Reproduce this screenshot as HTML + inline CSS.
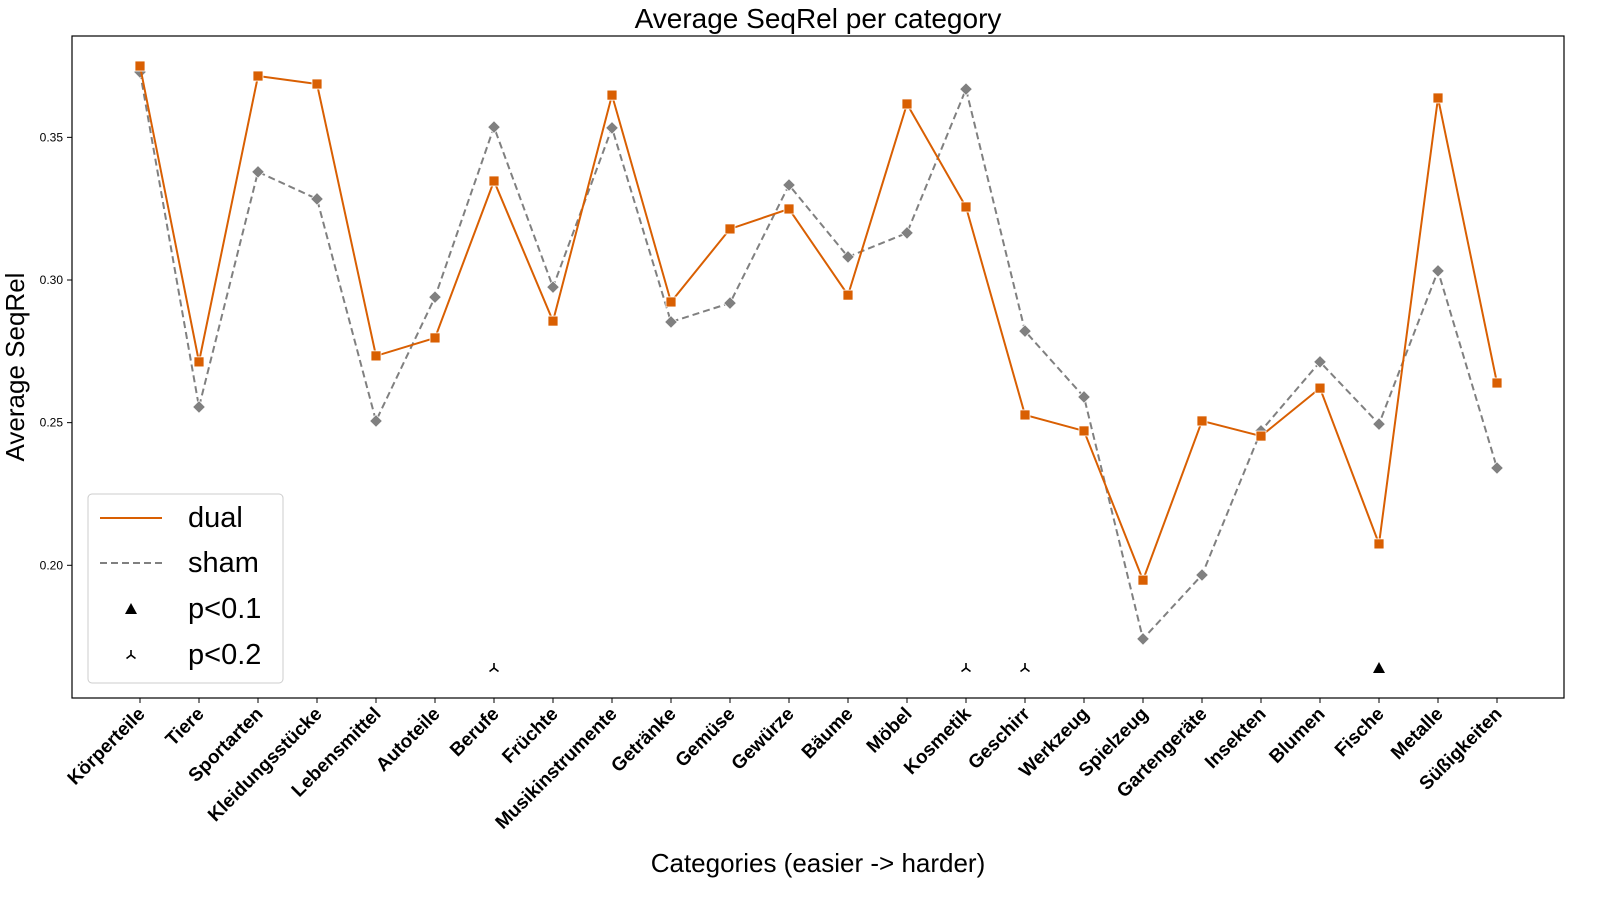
<!DOCTYPE html>
<html><head><meta charset="utf-8"><style>
html,body{margin:0;padding:0;background:#fff;}
svg{display:block;font-family:"Liberation Sans",Arial,sans-serif;}
</style></head><body>
<svg id="chart" width="1600" height="900"></svg>
<script>
const categories=["Körperteile","Tiere","Sportarten","Kleidungsstücke","Lebensmittel","Autoteile","Berufe","Früchte","Musikinstrumente","Getränke","Gemüse","Gewürze","Bäume","Möbel","Kosmetik","Geschirr","Werkzeug","Spielzeug","Gartengeräte","Insekten","Blumen","Fische","Metalle","Süßigkeiten"];
const dualValues=[0.375,0.2713,0.3715,0.3687,0.2734,0.2797,0.3347,0.2856,0.3648,0.2923,0.3179,0.3249,0.2947,0.3617,0.3256,0.2527,0.2471,0.1948,0.2506,0.2453,0.2621,0.2075,0.3638,0.2639];
const shamValues=[0.3729,0.2555,0.3379,0.3284,0.2506,0.2940,0.3536,0.2975,0.3533,0.2853,0.2919,0.3333,0.3081,0.3165,0.3669,0.2821,0.2590,0.1742,0.1966,0.2471,0.2713,0.2495,0.3032,0.2341];
const sigP01=["Fische"];
const sigP02=["Berufe","Kosmetik","Geschirr"];
const yTicks=[0.20,0.25,0.30,0.35];
const yTickLabels=["0.20","0.25","0.30","0.35"];

const NS="http://www.w3.org/2000/svg";
const svg=document.getElementById('chart');
const L=72,R=1564,T=36,B=698;
function x(i){return 140+i*(1497-140)/(categories.length-1);}
function y(v){return 280-(v-0.30)*2853;}
function el(tag,attrs,parent){const e=document.createElementNS(NS,tag);for(const k in attrs)e.setAttribute(k,attrs[k]);(parent||svg).appendChild(e);return e;}

let t=el('text',{x:818,y:28,'text-anchor':'middle','font-size':28,fill:'#000'});t.textContent='Average SeqRel per category';


let fr=el('rect',{x:L,y:T,width:R-L,height:B-T,fill:'none',stroke:'#000','stroke-width':1.2});



yTicks.forEach((v,i)=>{
  el('line',{x1:L-5,x2:L,y1:y(v),y2:y(v),stroke:'#000'});
  const tx=el('text',{x:L-9,y:y(v)+4,'text-anchor':'end','font-size':12});
  tx.textContent=yTickLabels[i];
  
  
});
categories.forEach((c,i)=>{
  el('line',{x1:x(i),x2:x(i),y1:B,y2:B+5,stroke:'#000'});
  const tx=el('text',{x:x(i)+6,y:B+17,'text-anchor':'end','font-size':19,'font-weight':'bold',transform:`rotate(-45 ${x(i)+6} ${B+17})`});
  tx.textContent=c;
  
  
});
t=el('text',{x:818,y:872,'text-anchor':'middle','font-size':26});t.textContent='Categories (easier -> harder)';


t=el('text',{x:24,y:367,'text-anchor':'middle','font-size':26,transform:'rotate(-90 24 367)'});t.textContent='Average SeqRel';



let p=el('polyline',{points:shamValues.map((v,i)=>x(i)+','+y(v)).join(' '),fill:'none',stroke:'#808080','stroke-width':2,'stroke-dasharray':'7,4'});


shamValues.forEach((v,i)=>{const m=el('rect',{x:x(i)-4.5,y:y(v)-4.5,width:9,height:9,fill:'#808080',stroke:'#fff','stroke-width':0.8,transform:`rotate(45 ${x(i)} ${y(v)})`});
  
  });
p=el('polyline',{points:dualValues.map((v,i)=>x(i)+','+y(v)).join(' '),fill:'none',stroke:'#d95f02','stroke-width':2});


dualValues.forEach((v,i)=>{const m=el('rect',{x:x(i)-5,y:y(v)-5,width:10,height:10,fill:'#d95f02',stroke:'#fff','stroke-width':0.8});
  
  });

function tri(cx,cy,parent){return el('polygon',{points:`${cx},${cy-6} ${cx-6},${cy+5} ${cx+6},${cy+5}`,fill:'#000'},parent);}
function tri3(cx,cy,parent){const g=el('g',{stroke:'#000','stroke-width':1.6,fill:'none'},parent);
  el('line',{x1:cx,y1:cy,x2:cx,y2:cy-5},g);el('line',{x1:cx,y1:cy,x2:cx-4.5,y2:cy+3.5},g);el('line',{x1:cx,y1:cy,x2:cx+4.5,y2:cy+3.5},g);return g;}
sigP01.forEach(c=>{const m=tri(x(categories.indexOf(c)),668);
  
  });
sigP02.forEach(c=>{const m=tri3(x(categories.indexOf(c)),668);
  
  });

const lg=el('g',{});


el('rect',{x:88,y:494,width:195,height:189,rx:4,fill:'#fff',stroke:'#ccc','stroke-width':1},lg);
el('line',{x1:100,x2:162,y1:518,y2:518,stroke:'#d95f02','stroke-width':2},lg);
el('line',{x1:100,x2:162,y1:563,y2:563,stroke:'#808080','stroke-width':2,'stroke-dasharray':'7,4'},lg);
tri(131,609,lg);tri3(131,655,lg);
[['dual',527],['sham',572],['p<0.1',618],['p<0.2',664]].forEach(([s,yy])=>{const tx=el('text',{x:188,y:yy,'font-size':29},lg);tx.textContent=s;
  
  });
</script>
</body></html>
